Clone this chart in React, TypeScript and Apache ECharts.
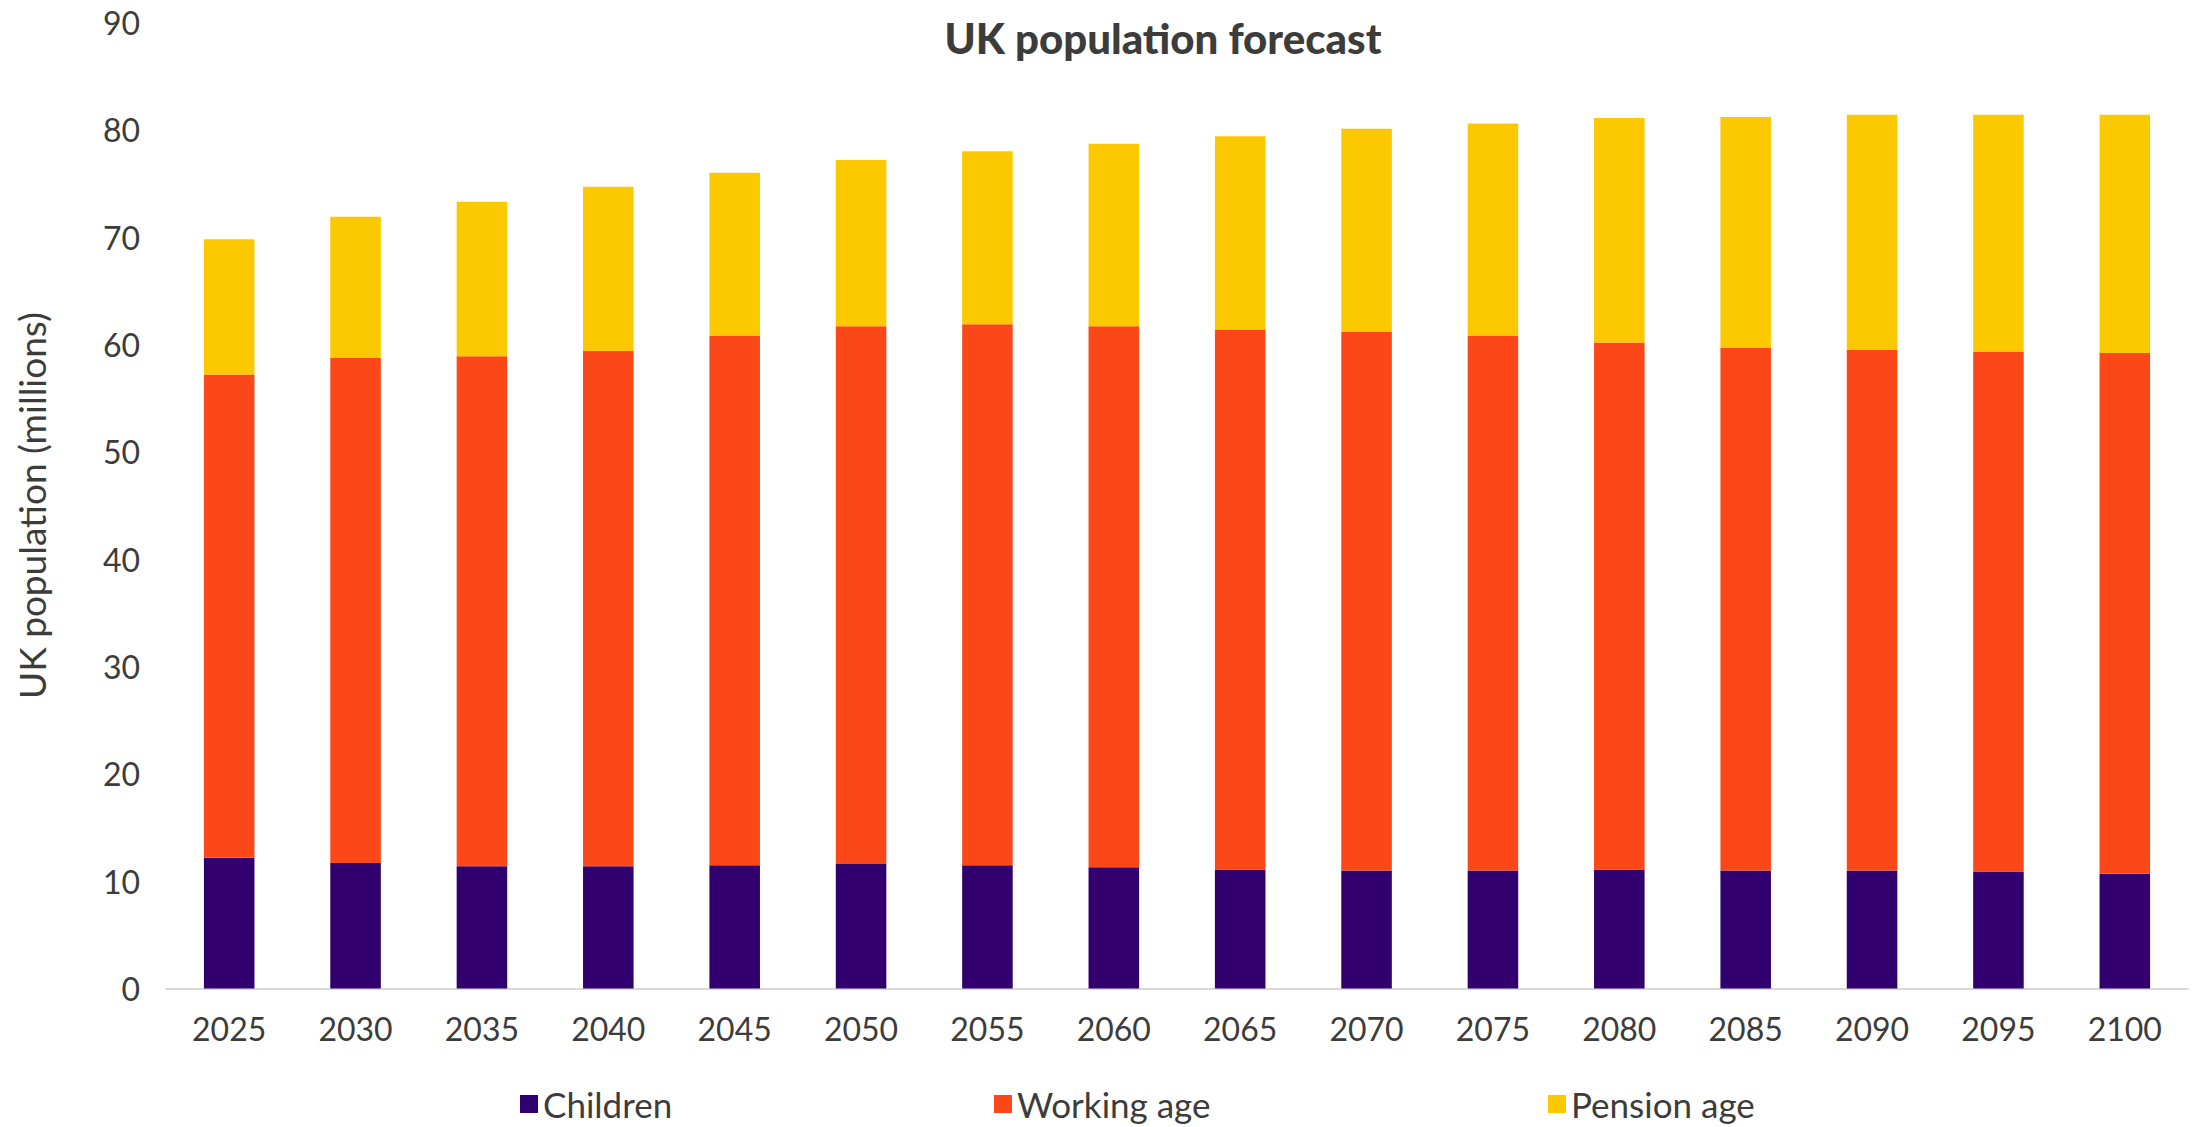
import React, { useEffect, useRef } from "react";
import * as echarts from "echarts";

const years = ["2025", "2030", "2035", "2040", "2045", "2050", "2055", "2060", "2065", "2070", "2075", "2080", "2085", "2090", "2095", "2100"];
const children = [12.2, 11.7, 11.4, 11.4, 11.5, 11.6, 11.5, 11.3, 11.1, 11.0, 11.0, 11.1, 11.0, 11.0, 10.9, 10.7];
const workingAge = [45.0, 47.1, 47.5, 48.0, 49.3, 50.1, 50.4, 50.4, 50.3, 50.2, 49.8, 49.1, 48.7, 48.5, 48.4, 48.5];
const pensionAge = [12.6, 13.1, 14.4, 15.3, 15.2, 15.5, 16.1, 17.0, 18.0, 18.9, 19.8, 20.9, 21.5, 21.9, 22.1, 22.2];

const seriesNames = ["Children", "Working age", "Pension age"];
const colors = ["#32006E", "#FC4819", "#FCC900"];
const legendLefts = [520, 994, 1548];
const textColor = "#3C3C3B";
const font = "Lato, 'Open Sans', sans-serif";

export default function App() {
  const ref = useRef<HTMLDivElement>(null);
  useEffect(() => {
    if (!ref.current) return;
    const chart = echarts.init(ref.current, null, { renderer: "svg" });
    const data = [children, workingAge, pensionAge];
    chart.setOption({
      animation: false,
      backgroundColor: "#ffffff",
      textStyle: { fontFamily: font, color: textColor },
      title: {
        text: "UK population forecast",
        left: 1158,
        top: 12,
        textAlign: "center",
        textStyle: { fontFamily: font, fontWeight: 900, fontSize: 42, color: textColor },
      },
      legend: seriesNames.map((name, i) => ({
        left: legendLefts[i],
        top: 1086,
        padding: 0,
        itemWidth: 18,
        itemHeight: 18,
        itemGap: 0,
        icon: "rect",
        textStyle: { fontFamily: font, fontSize: 35, color: textColor, lineHeight: 36 },
        data: [name],
      })),
      grid: { left: 166, right: 14, top: 22.5, bottom: 138.4, containLabel: false },
      xAxis: {
        type: "category",
        data: years,
        axisLine: { show: true, lineStyle: { color: "#D9D9D9", width: 2 } },
        axisTick: { show: false },
        axisLabel: { fontFamily: font, fontSize: 32, color: textColor, margin: 24 },
      },
      yAxis: {
        type: "value",
        min: 0,
        max: 90,
        interval: 10,
        name: "UK population (millions)",
        nameLocation: "middle",
        nameGap: 116,
        nameTextStyle: { fontFamily: font, fontSize: 37, color: textColor },
        axisLine: { show: false },
        axisTick: { show: false },
        splitLine: { show: false },
        axisLabel: { fontFamily: font, fontSize: 32, color: textColor, margin: 26 },
      },
      series: seriesNames.map((name, i) => ({
        name,
        type: "bar",
        stack: "total",
        barWidth: "40%",
        itemStyle: { color: colors[i] },
        data: data[i],
      })),
    });
    return () => chart.dispose();
  }, []);
  return <div ref={ref} style={{ position: "fixed", left: 0, top: 0, width: "2202px", height: "1127px" }} />;
}
